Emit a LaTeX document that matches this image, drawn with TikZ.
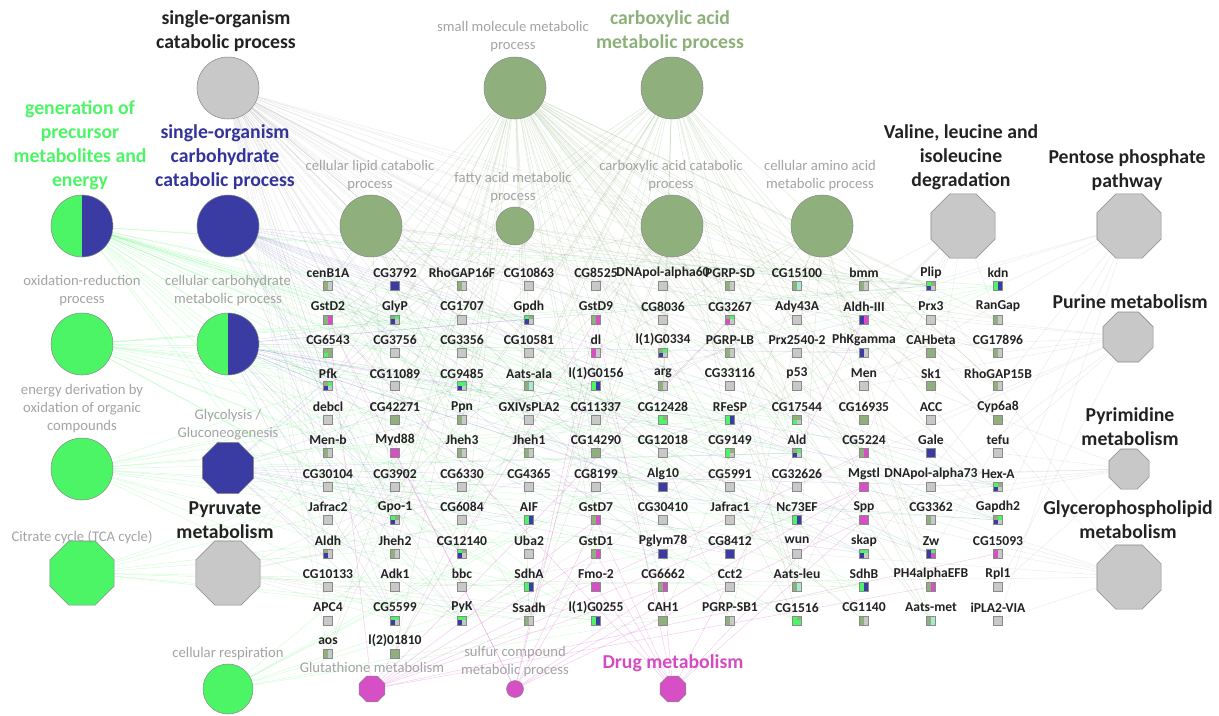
\documentclass[tikz,border=0pt]{standalone}
\usepackage{fontspec}
\setmainfont{Carlito}
\usetikzlibrary{shapes.geometric}
\pgfdeclarelayer{bg}
\pgfsetlayers{bg,main}
\definecolor{qG}{HTML}{C8C8C8}
\definecolor{qO}{HTML}{8FB07D}
\definecolor{qB}{HTML}{3A3BA3}
\definecolor{qM}{HTML}{D64FC4}
\definecolor{qN}{HTML}{4CF565}
\definecolor{qC}{HTML}{A6E8D2}
\definecolor{txtgray}{HTML}{A3A3A3}
\definecolor{txtdark}{HTML}{222222}
\definecolor{bord}{HTML}{8A8A8A}
\definecolor{lblgreen}{HTML}{4CF565}
\definecolor{lblblue}{HTML}{33339A}
\definecolor{lblolive}{HTML}{8CB07A}
\definecolor{lblmag}{HTML}{D44CC0}
\tikzset{
  gene/.style={font=\fontsize{10.2}{12}\selectfont\bfseries, text=txtdark, inner sep=0pt},
  sqr/.style n args={4}{draw=bord, line width=0.3pt, minimum size=6.7pt, inner sep=0pt,
    path picture={
      \fill[fill=#1] (path picture bounding box.north west) rectangle (path picture bounding box.center);
      \fill[fill=#2] (path picture bounding box.north east) rectangle (path picture bounding box.center);
      \fill[fill=#3] (path picture bounding box.south west) rectangle (path picture bounding box.center);
      \fill[fill=#4] (path picture bounding box.south east) rectangle (path picture bounding box.center);}},
  tb/.style={font=\fontsize{14.8}{18}\selectfont\bfseries, align=center, text=txtdark, inner sep=0pt},
  tg/.style={font=\fontsize{11}{13.5}\selectfont, align=center, text=txtgray, inner sep=0pt},
  tc/.style={circle, draw=bord, line width=0.4pt, inner sep=0pt, minimum size=#1},
  toct/.style={regular polygon, regular polygon sides=8, draw=bord, line width=0.4pt, inner sep=0pt, minimum size=#1},
  half/.style={path picture={
      \fill[qN] (path picture bounding box.south west) rectangle (path picture bounding box.north);
      \fill[qB] (path picture bounding box.south) rectangle (path picture bounding box.north east);}},
  eO/.style={draw=qO, opacity=0.28, line width=0.35pt},
  eG/.style={draw=gray, opacity=0.16, line width=0.35pt},
  eN/.style={draw=qN, opacity=0.25, line width=0.35pt},
  eB/.style={draw=qB, opacity=0.16, line width=0.35pt},
  eM/.style={draw=qM, opacity=0.3, line width=0.35pt}
}
\begin{document}
\begin{tikzpicture}[x=0.75pt,y=-0.75pt]
\useasboundingbox (0,0) rectangle (1219,715);

% ---------- term nodes ----------
\node[tc=46.5pt, fill=qG] (soc) at (228,88) {};
\node[tb] (t-soc) at (226,31) {single-organism\\catabolic process};
\node[tc=46.5pt, fill=qO] (smm) at (515,88) {};
\node[tg] (t-smm) at (513,37) {small molecule metabolic\\process};
\node[tc=46.5pt, fill=qO] (cam) at (672,88) {};
\node[tb, text=lblolive] (t-cam) at (670,31) {carboxylic acid\\metabolic process};

\node[tc=46.5pt, half] (gpm) at (82,226) {};
\node[tb, text=lblgreen] (t-gpm) at (80,145) {generation of\\precursor\\metabolites and\\energy};
\node[tc=46.5pt, fill=qB] (scc) at (228,226) {};
\node[tb, text=lblblue] (t-scc) at (225,157) {single-organism\\carbohydrate\\catabolic process};
\node[tc=46.5pt, fill=qO] (clc) at (371,226) {};
\node[tg] (t-clc) at (370,176) {cellular lipid catabolic\\process};
\node[tc=28.5pt, fill=qO] (fam) at (515,226) {};
\node[tg] (t-fam) at (513,188) {fatty acid metabolic\\process};
\node[tc=46.5pt, fill=qO] (cac) at (672,226) {};
\node[tg] (t-cac) at (671,176) {carboxylic acid catabolic\\process};
\node[tc=46.5pt, fill=qO] (aam) at (822,226) {};
\node[tg] (t-aam) at (820,176) {cellular amino acid\\metabolic process};
\node[toct=52pt, fill=qG] (val) at (963,226) {};
\node[tb] (t-val) at (961,157) {Valine, leucine and\\isoleucine\\degradation};
\node[toct=52pt, fill=qG] (ppp) at (1129,226) {};
\node[tb] (t-ppp) at (1127,170) {Pentose phosphate\\pathway};

\node[tc=46.5pt, fill=qN] (oxr) at (82,344) {};
\node[tg] (t-oxr) at (82,291) {oxidation-reduction\\process};
\node[tc=46.5pt, half] (ccm) at (228,344) {};
\node[tg] (t-ccm) at (228,291) {cellular carbohydrate\\metabolic process};
\node[toct=40.6pt, fill=qG] (pur) at (1128,337) {};
\node[tb] (t-pur) at (1130,302) {Purine metabolism};

\node[tc=46.5pt, fill=qN] (edo) at (82,469) {};
\node[tg] (t-edo) at (82,409) {energy derivation by\\oxidation of organic\\compounds};
\node[toct=41.4pt, fill=qB] (gly) at (228,468) {};
\node[tg] (t-gly) at (228,425) {Glycolysis /\\Gluconeogenesis};
\node[toct=32.5pt, fill=qG] (pyr) at (1129,469) {};
\node[tb] (t-pyr) at (1130,427) {Pyrimidine\\metabolism};

\node[toct=52pt, fill=qN] (tca) at (82,573) {};
\node[tg] (t-tca) at (82,537) {Citrate cycle (TCA cycle)};
\node[toct=52pt, fill=qG] (pyv) at (228,573) {};
\node[tb] (t-pyv) at (225,520) {Pyruvate\\metabolism};
\node[toct=52pt, fill=qG] (gpl) at (1129,577) {};
\node[tb] (t-gpl) at (1128,520) {Glycerophospholipid\\metabolism};

\node[tc=37.5pt, fill=qN] (res) at (228,689) {};
\node[tg] (t-res) at (228,654) {cellular respiration};
\node[toct=21pt, fill=qM] (glu) at (372,689) {};
\node[tg] (t-glu) at (372,667) {Glutathione metabolism};
\node[tc=12.75pt, fill=qM] (sul) at (515,689) {};
\node[tg] (t-sul) at (515,662) {sulfur compound\\metabolic process};
\node[toct=21pt, fill=qM] (drg) at (673,689) {};
\node[tb, text=lblmag] (t-drg) at (673,663) {Drug metabolism};

% ---------- gene nodes ----------
\foreach \c/\r/\lab/\ta/\tb/\ba/\bb in {
1/1/cenB1A/qO/qG/qO/qG, 2/1/CG3792/qB/qB/qB/qB, 3/1/RhoGAP16F/qO/qG/qO/qG, 4/1/CG10863/qG/qG/qG/qG,
5/1/CG8525/qG/qG/qG/qG, 6/1/DNApol-alpha60/qG/qG/qG/qG, 7/1/PGRP-SD/qO/qG/qO/qG, 8/1/CG15100/qO/qC/qO/qC,
9/1/bmm/qO/qG/qO/qG, 10/1/Plip/qN/qO/qB/qG, 11/1/kdn/qN/qB/qN/qB,
1/2/GstD2/qO/qM/qO/qM, 2/2/GlyP/qO/qN/qB/qG, 3/2/CG1707/qG/qG/qG/qG, 4/2/Gpdh/qN/qO/qB/qG,
5/2/GstD9/qO/qM/qO/qM, 6/2/CG8036/qG/qG/qG/qG, 7/2/CG3267/qO/qN/qM/qG, 8/2/Ady43A/qG/qG/qG/qG,
9/2/Aldh-III/qB/qM/qB/qM, 10/2/Prx3/qG/qG/qG/qG, 11/2/RanGap/qO/qG/qO/qG,
1/3/CG6543/qO/qO/qN/qO, 2/3/CG3756/qG/qG/qG/qG, 3/3/CG3356/qG/qG/qG/qG, 4/3/CG10581/qG/qG/qG/qG,
5/3/dl/qM/qG/qM/qG, 6/3/l(1)G0334/qO/qN/qB/qG, 7/3/PGRP-LB/qO/qG/qO/qG, 8/3/Prx2540-2/qG/qG/qG/qG,
9/3/PhKgamma/qB/qG/qB/qG, 10/3/CAHbeta/qO/qO/qO/qO, 11/3/CG17896/qO/qG/qO/qG,
1/4/Pfk/qO/qN/qB/qG, 2/4/CG11089/qG/qG/qG/qG, 3/4/CG9485/qN/qN/qB/qG, 4/4/Aats-ala/qO/qC/qO/qC,
5/4/l(1)G0156/qN/qB/qN/qB, 6/4/arg/qO/qG/qO/qG, 7/4/CG33116/qG/qG/qG/qG, 8/4/p53/qG/qG/qG/qG,
9/4/Men/qG/qG/qG/qG, 10/4/Sk1/qO/qO/qO/qO, 11/4/RhoGAP15B/qO/qG/qO/qG,
1/5/debcl/qG/qG/qG/qG, 2/5/CG42271/qO/qO/qO/qO, 3/5/Ppn/qO/qG/qO/qG, 4/5/GXIVsPLA2/qG/qG/qG/qG,
5/5/CG11337/qG/qG/qG/qG, 6/5/CG12428/qN/qO/qN/qN, 7/5/RFeSP/qN/qB/qN/qB, 8/5/CG17544/qO/qO/qN/qG,
9/5/CG16935/qO/qO/qO/qO, 10/5/ACC/qG/qG/qG/qG, 11/5/Cyp6a8/qO/qO/qO/qO,
1/6/Men-b/qO/qG/qO/qG, 2/6/Myd88/qM/qM/qM/qM, 3/6/Jheh3/qO/qG/qO/qG, 4/6/Jheh1/qO/qG/qO/qG,
5/6/CG14290/qO/qO/qO/qO, 6/6/CG12018/qG/qG/qG/qG, 7/6/CG9149/qN/qO/qN/qG, 8/6/Ald/qO/qN/qB/qG,
9/6/CG5224/qO/qM/qO/qM, 10/6/Gale/qB/qB/qB/qB, 11/6/tefu/qG/qG/qG/qG,
1/7/CG30104/qG/qG/qG/qG, 2/7/CG3902/qG/qG/qG/qG, 3/7/CG6330/qG/qG/qG/qG, 4/7/CG4365/qG/qG/qG/qG,
5/7/CG8199/qG/qG/qG/qG, 6/7/Alg10/qB/qB/qB/qB, 7/7/CG5991/qG/qG/qG/qG, 8/7/CG32626/qG/qG/qG/qG,
9/7/Mgstl/qM/qM/qM/qM, 10/7/DNApol-alpha73/qG/qG/qG/qG, 11/7/Hex-A/qN/qO/qB/qG,
1/8/Jafrac2/qG/qG/qG/qG, 2/8/Gpo-1/qN/qO/qB/qG, 3/8/CG6084/qG/qG/qG/qG, 4/8/AIF/qN/qB/qN/qB,
5/8/GstD7/qO/qM/qO/qM, 6/8/CG30410/qG/qG/qG/qG, 7/8/Jafrac1/qG/qG/qG/qG, 8/8/Nc73EF/qN/qB/qN/qB,
9/8/Spp/qM/qM/qM/qM, 10/8/CG3362/qO/qG/qO/qG, 11/8/Gapdh2/qO/qN/qB/qG,
1/9/Aldh/qO/qG/qB/qG, 2/9/Jheh2/qO/qG/qO/qG, 3/9/CG12140/qN/qO/qB/qG, 4/9/Uba2/qG/qG/qG/qG,
5/9/GstD1/qO/qM/qO/qM, 6/9/Pglym78/qB/qB/qB/qB, 7/9/CG8412/qB/qB/qB/qB, 8/9/wun/qG/qG/qG/qG,
9/9/skap/qN/qN/qB/qG, 10/9/Zw/qB/qN/qB/qM, 11/9/CG15093/qM/qG/qM/qG,
1/10/CG10133/qG/qG/qG/qG, 2/10/Adk1/qG/qG/qG/qG, 3/10/bbc/qG/qG/qG/qG, 4/10/SdhA/qN/qB/qN/qB,
5/10/Fmo-2/qM/qM/qM/qM, 6/10/CG6662/qO/qM/qO/qM, 7/10/Cct2/qG/qG/qG/qG, 8/10/Aats-leu/qO/qC/qO/qC,
9/10/SdhB/qN/qB/qN/qB, 10/10/PH4alphaEFB/qO/qM/qO/qM, 11/10/Rpl1/qG/qG/qG/qG,
1/11/APC4/qG/qG/qG/qG, 2/11/CG5599/qN/qN/qB/qG, 3/11/PyK/qN/qN/qB/qG, 4/11/Ssadh/qO/qG/qO/qG,
5/11/l(1)G0255/qN/qB/qN/qB, 6/11/CAH1/qO/qO/qO/qO, 7/11/PGRP-SB1/qO/qG/qO/qG, 8/11/CG1516/qN/qO/qN/qN,
9/11/CG1140/qO/qG/qO/qG, 10/11/Aats-met/qO/qC/qO/qC, 11/11/iPLA2-VIA/qG/qG/qG/qG,
1/12/aos/qO/qG/qO/qG, 2/12/l(2)01810/qO/qO/qO/qO}
{
  \pgfmathsetmacro\xx{261+67*\c}
  \pgfmathsetmacro\yy{239.55+33.45*\r}
  \node[gene] (l-\c-\r) at (\xx,\yy) {\lab};
  \node[sqr={\ta}{\tb}{\ba}{\bb}] (n-\c-\r) at (\xx,\yy+12.8) {};
}

% ---------- connectors ----------
\begin{pgfonlayer}{bg}
\foreach \g in {1-1,3-1,7-1,8-1,9-1,10-1,1-2,2-2,4-2,5-2,7-2,11-2,1-3,6-3,7-3,10-3,11-3,1-4,4-4,6-4,10-4,11-4,2-5,3-5,6-5,8-5,9-5,11-5,1-6,3-6,4-6,5-6,7-6,8-6,9-6,11-7,2-8,5-8,10-8,11-8,1-9,2-9,3-9,5-9,10-9,6-10,8-10,10-10,4-11,6-11,7-11,8-11,9-11,10-11,1-12,2-12}
  \draw[eO] (smm) -- (n-\g);
\foreach \g in {8-1,1-2,2-2,4-2,5-2,6-3,1-4,4-4,6-4,10-4,3-5,6-5,8-5,9-5,1-6,5-6,7-6,8-6,11-7,2-8,11-8,1-9,3-9,10-9,8-10,10-10,4-11,8-11,10-11,2-12,1-3,11-4}
  \draw[eO] (cam) -- (n-\g);
\foreach \g in {9-1,10-1,3-1,3-5,4-6,3-6,2-9,9-11,7-3,11-2,1-1}
  \draw[eO] (clc) -- (n-\g);
\foreach \g in {9-1,10-1,2-5,1-12,11-3,3-5,9-6}
  \draw[eO] (fam) -- (n-\g);
\foreach \g in {1-2,5-2,4-4,8-10,10-11,6-4,1-9,5-6,4-11,8-6}
  \draw[eO] (cac) -- (n-\g);
\foreach \g in {8-1,7-1,6-4,4-4,8-10,10-11,7-11,9-5,10-3,10-10,11-5,6-11,11-4}
  \draw[eO] (aam) -- (n-\g);
\foreach \g in {1-1,3-1,7-1,9-1,10-1,2-2,4-2,7-2,11-2,6-3,7-3,11-3,1-4,3-4,6-4,11-4,3-5,1-6,3-6,4-6,8-6,11-7,2-8,11-8,1-9,2-9,3-9,4-11,7-11,9-11,1-12,2-11,3-11,4-1,5-1,3-2,6-2,2-3,4-3,2-4,7-4,1-5,4-5,5-5,6-6,1-7,3-7,5-7,7-7,1-8,3-8,6-8,4-9,8-9,2-10,7-10,1-11}
  \draw[eG] (soc) -- (n-\g);
\foreach \g in {2-2,4-2,10-1,11-1,6-3,1-4,3-4,5-4,6-5,7-5,8-5,7-6,8-6,11-7,2-8,4-8,8-8,11-8,1-9,3-9,9-9,10-9,4-10,9-10,2-11,3-11,5-11,8-11,1-3}
  \draw[eN] (gpm) -- (n-\g);
\foreach \g in {2-1,2-2,4-2,10-1,1-4,3-4,8-6,11-7,11-8,2-8,3-9,9-9,10-9,2-11,3-11,6-7,6-9,7-9,10-6,9-3,9-2}
  \draw[eB] (scc) -- (n-\g);
\foreach \g in {11-1,5-4,7-5,4-8,8-8,4-10,9-10,5-11,6-5,8-5,1-3,7-6,8-11,6-3,10-1,2-2}
  \draw[eN] (oxr) -- (n-\g);
\foreach \g in {2-2,4-2,10-1,1-4,3-4,8-6,11-7,11-8,2-8,3-9,9-9,10-9,2-11,3-11,6-7,6-9,7-9,10-6,9-3,1-9}
  \draw[eB] (ccm) -- (n-\g);
\foreach \g in {11-1,5-4,7-5,4-8,8-8,4-10,9-10,5-11,1-4,3-4,2-11,3-11,8-6,11-8,6-5}
  \draw[eN] (edo) -- (n-\g);
\foreach \g in {2-2,1-4,3-4,8-6,11-7,11-8,3-9,9-9,2-11,3-11,6-9,7-9,1-9,2-8,9-2}
  \draw[eB] (gly) -- (n-\g);
\foreach \g in {5-4,4-10,9-10,5-11,4-8,8-8,7-5,11-1,4-11}
  \draw[eN] (tca) -- (n-\g);
\foreach \g in {5-4,4-10,9-10,5-11,4-8,8-8,7-5,11-1}
  \draw[eN] (res) -- (n-\g);
\foreach \g in {1-2,5-2,5-8,5-9,9-7,9-6,6-10,10-10,11-9,7-2}
  \draw[eM] (glu) -- (n-\g);
\foreach \g in {1-2,5-2,5-8,5-9,9-7,9-8,2-6,5-3,6-10}
  \draw[eM] (sul) -- (n-\g);
\foreach \g in {1-2,5-2,5-8,5-9,9-7,5-10,6-10,9-2,9-8}
  \draw[eM] (drg) -- (n-\g);
\foreach \g in {1-9,8-6,3-11,2-11,10-3,6-11,9-1,1-6,5-11,4-11,2-2}
  \draw[eG] (pyv) -- (n-\g);
\foreach \g in {9-2,1-9,8-10,4-11,11-2,10-1,8-4,10-5,9-4}
  \draw[eG] (val) -- (n-\g);
\foreach \g in {11-1,10-1,10-9,11-8,9-9,3-11,8-2,11-11}
  \draw[eG] (ppp) -- (n-\g);
\foreach \g in {6-1,10-2,8-3,9-4,10-5,11-6,10-7,8-7,11-10,11-3}
  \draw[eG] (pur) -- (n-\g);
\foreach \g in {6-1,10-7,11-6,11-10,4-7,2-7,7-8,3-10}
  \draw[eG] (pyr) -- (n-\g);
\foreach \g in {10-1,11-11,9-1,3-5,10-8,1-10,11-9,8-9,3-3}
  \draw[eG] (gpl) -- (n-\g);
\end{pgfonlayer}
\end{tikzpicture}
\end{document}
